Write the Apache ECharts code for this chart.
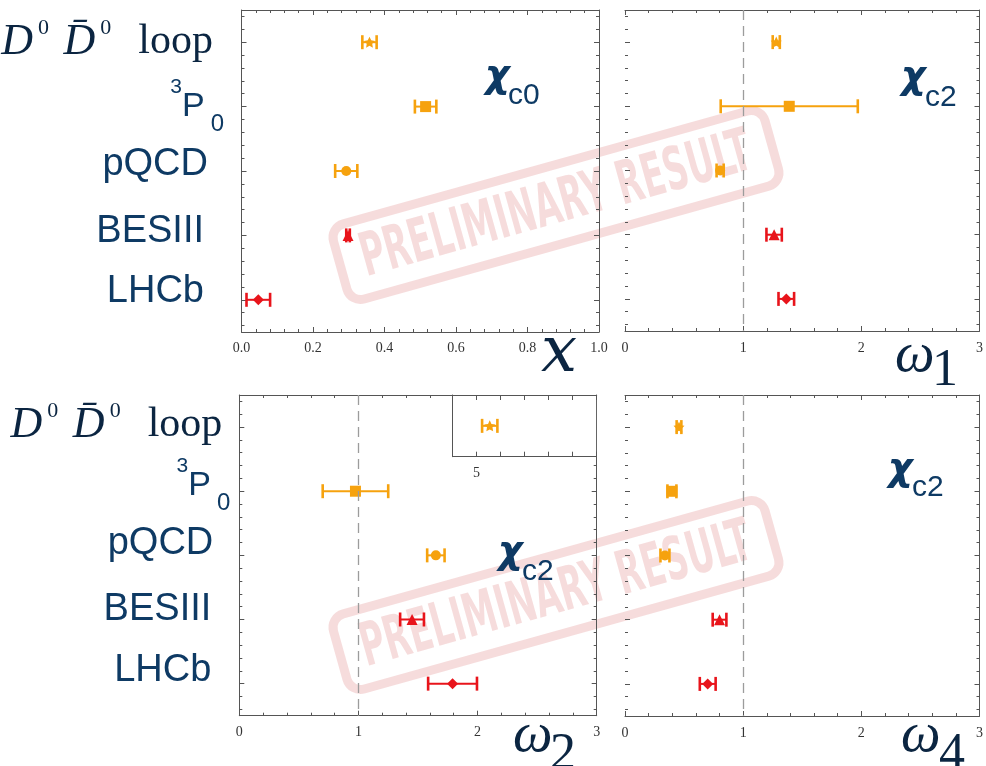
<!DOCTYPE html>
<html>
<head>
<meta charset="utf-8">
<script src="https://cdn.jsdelivr.net/npm/echarts@6/dist/echarts.min.js"></script>
<style>
  html, body { margin: 0; padding: 0; background: #ffffff; }
  #chart { width: 986px; height: 766px; }
</style>
</head>
<body>
<div id="chart"></div>
<script>
// ---- data -----------------------------------------------------------------
// rows, top to bottom
const methods = ['D0 D0bar loop', '3P0', 'pQCD', 'BESIII', 'LHCb'];

// chi_c0 : x
const xCentral = [0.358, 0.515, 0.293, 0.298, 0.047];
const xError   = [0.020, 0.030, 0.031, 0.005, 0.033];

// chi_c2 : omega_1
const w1Central = [1.280, 1.390, 0.805, 1.262, 1.365];
const w1Error   = [0.030, 0.580, 0.030, 0.065, 0.066];

// chi_c2 : omega_2  (loop value sits in the inset, 4..10 scale)
const w2Central = [5.55, 0.975, 1.650, 1.450, 1.790];
const w2Error   = [0.32, 0.275, 0.073, 0.100, 0.205];

// chi_c2 : omega_4
const w4Central = [0.457, 0.397, 0.338, 0.800, 0.700];
const w4Error   = [0.020, 0.038, 0.038, 0.058, 0.067];

const xTickLabelsTL = ['0.0', '0.2', '0.4', '0.6', '0.8', '1.0'];

// ---- styles ---------------------------------------------------------------
const ORANGE = '#f6a20e';
const RED = '#e8141b';
const NAVY = '#0e3a64';
const INK = '#0b2541';
const AXIS = '#555555';
const methodColor = [ORANGE, ORANGE, ORANGE, RED, RED];
const STAR = 'path://M0,-10L2.94,-4.05L9.51,-3.09L4.76,1.55L5.88,8.09L0,5L-5.88,8.09L-4.76,1.55L-9.51,-3.09L-2.94,-4.05Z';
const methodSymbol = [STAR, 'rect', 'circle', 'triangle', 'diamond'];
const methodSymbolSize = [11, 11, 10, 11, 11];

const panels = [
  { left: 241.5, top: 10,  width: 357.5, height: 322,   min: 0, max: 1, interval: 0.2, margin: 9,
    fmt: v => xTickLabelsTL[Math.round(v / 0.2)], center: xCentral, err: xError, ref: false, leftLine: true },
  { left: 625,   top: 10,  width: 356.7, height: 321,   min: 0, max: 3, interval: 1, margin: 10,
    fmt: v => String(Math.round(v)), center: w1Central, err: w1Error, ref: true, leftLine: false },
  { left: 239.3, top: 395, width: 357.4, height: 320.7, min: 0, max: 3, interval: 1, margin: 10,
    fmt: v => String(Math.round(v)), center: w2Central, err: w2Error, ref: true, leftLine: true, skip: [0] },
  { left: 625,   top: 395, width: 356.7, height: 321,   min: 0, max: 3, interval: 1, margin: 10,
    fmt: v => String(Math.round(v)), center: w4Central, err: w4Error, ref: true, leftLine: false }
];
const inset = { left: 452.7, top: 395, width: 143.4, height: 61.7, min: 4, max: 10, interval: 1 };

// tick positions along the row axis
const rowTicks = [1, 2, 3, 4, 5];
const rowMinorTicks = [];
for (let k = 3; k <= 27; k++) rowMinorTicks.push(+(k * 0.2).toFixed(1));

// ---- axes -----------------------------------------------------------------
const grids = [], xAxes = [], yAxes = [], series = [];
const lineStyle = { color: AXIS, width: 1 };

function xAxesFor(g, p, opts) {
  const common = {
    type: 'value', gridIndex: g, min: p.min, max: p.max, interval: p.interval,
    splitLine: { show: false },
    axisLine: { show: true, onZero: false, lineStyle },
    axisTick: { show: true, inside: true, length: 5, lineStyle },
    minorTick: { show: opts.minor, splitNumber: 5, length: 3, lineStyle },
    z: opts.z || 0
  };
  return [
    Object.assign({}, common, {
      position: 'bottom',
      axisLabel: { show: true, margin: opts.margin, fontFamily: 'Liberation Serif', fontSize: 14,
        color: '#333', formatter: opts.fmt, showMinLabel: true, showMaxLabel: true }
    }),
    Object.assign({}, common, { position: 'top', axisLabel: { show: false } })
  ];
}

function yAxesFor(g, leftLine) {
  const base = { type: 'value', gridIndex: g, min: 0.5, max: 5.5, inverse: true,
    axisLabel: { show: false }, splitLine: { show: false } };
  const mk = (pos, line, ticks, len) => Object.assign({}, base, {
    position: pos,
    axisLine: { show: line, onZero: false, lineStyle },
    axisTick: { show: true, inside: true, length: len, customValues: ticks, lineStyle }
  });
  return [
    mk('left', leftLine, rowTicks, 5),
    mk('left', false, rowMinorTicks, 3),
    mk('right', true, rowTicks, 5),
    mk('right', false, rowMinorTicks, 3)
  ];
}

function renderErrorBar(params, api) {
  const a = api.coord([api.value(0), api.value(2)]);
  const b = api.coord([api.value(1), api.value(2)]);
  const color = methodColor[api.value(3)];
  const cap = 7;
  return {
    type: 'group',
    children: [
      { type: 'line', shape: { x1: a[0], y1: a[1], x2: b[0], y2: b[1] }, style: { stroke: color, lineWidth: 2 } },
      { type: 'line', shape: { x1: a[0], y1: a[1] - cap, x2: a[0], y2: a[1] + cap }, style: { stroke: color, lineWidth: 2.6 } },
      { type: 'line', shape: { x1: b[0], y1: b[1] - cap, x2: b[0], y2: b[1] + cap }, style: { stroke: color, lineWidth: 2.6 } }
    ]
  };
}

function addPoints(xi, yi, center, err, rows, z) {
  series.push({
    type: 'custom', xAxisIndex: xi, yAxisIndex: yi, z: z,
    renderItem: renderErrorBar, encode: { x: [0, 1], y: 2 },
    data: rows.map(i => [center[i] - err[i], center[i] + err[i], i + 1, i])
  });
  series.push({
    type: 'scatter', xAxisIndex: xi, yAxisIndex: yi, z: z + 1,
    data: rows.map(i => ({
      value: [center[i], i + 1],
      symbol: methodSymbol[i],
      symbolSize: methodSymbolSize[i],
      itemStyle: { color: methodColor[i], opacity: 1 }
    }))
  });
}

panels.forEach((p, g) => {
  grids.push({ left: p.left, top: p.top, width: p.width, height: p.height, containLabel: false });
  xAxes.push(...xAxesFor(g, p, { minor: true, margin: p.margin, fmt: p.fmt }));
  yAxes.push(...yAxesFor(g, p.leftLine));
  const rows = [0, 1, 2, 3, 4].filter(i => !(p.skip || []).includes(i));
  if (p.ref) {
    series.push({
      type: 'scatter', xAxisIndex: 2 * g, yAxisIndex: 4 * g, data: [], z: 1, silent: true,
      markLine: {
        silent: true, symbol: ['none', 'none'], label: { show: false },
        lineStyle: { color: '#9c9c9c', type: [10, 6], width: 1.3 },
        data: [{ xAxis: 1 }]
      }
    });
  }
  addPoints(2 * g, 4 * g, p.center, p.err, rows, 2);
});

// inset for the loop value of omega_2
const insetGrid = grids.length;
grids.push({ left: inset.left, top: inset.top, width: inset.width, height: inset.height,
  show: true, backgroundColor: '#ffffff', borderWidth: 0, z: 10 });
const insetX = xAxes.length;
xAxes.push(...xAxesFor(insetGrid, inset, { minor: false, margin: 10, z: 11,
  fmt: v => (Math.round(v) === 5 ? '5' : '') }));
const insetY = yAxes.length;
yAxes.push({ type: 'value', gridIndex: insetGrid, min: 0.5, max: 1.5, inverse: true, position: 'left', z: 11,
  axisLine: { show: true, onZero: false, lineStyle }, axisTick: { show: false },
  axisLabel: { show: false }, splitLine: { show: false } });
addPoints(insetX, insetY, w2Central, w2Error, [0], 12);

const chart = echarts.init(document.getElementById('chart'), null, { renderer: 'canvas' });
chart.setOption({
  animation: false,
  backgroundColor: '#ffffff',
  grid: grids,
  xAxis: xAxes,
  yAxis: yAxes,
  series: series
});

// ---- row labels, panel tags, axis titles, stamp -----------------------------
const labelRich = {
  it:  { fontFamily: 'Liberation Serif', fontStyle: 'italic', fontSize: 44, lineHeight: 50, fill: INK, padding: [0, 5, 0, 0] },
  sup: { fontFamily: 'Liberation Serif', fontSize: 22, lineHeight: 42, verticalAlign: 'top', fill: INK },
  sp:  { fontFamily: 'Liberation Serif', fontSize: 42, lineHeight: 50, fill: INK, padding: [0, 4, 0, 0] },
  rm:  { fontFamily: 'Liberation Serif', fontSize: 42, lineHeight: 50, fill: INK, padding: [0, 0, 0, 6] },
  s3:  { fontFamily: 'Liberation Sans', fontSize: 21, lineHeight: 38, verticalAlign: 'top', fill: NAVY },
  P:   { fontFamily: 'Liberation Sans', fontSize: 34, lineHeight: 60, fill: NAVY },
  s0:  { fontFamily: 'Liberation Sans', fontSize: 24, lineHeight: 22, verticalAlign: 'bottom', fill: NAVY, padding: [0, 0, 0, 6] },
  sf:  { fontFamily: 'Liberation Sans', fontSize: 38, lineHeight: 50, fill: NAVY }
};
const methodLabel = [
  '{it|D}{sup|0}{sp| }{it|D\u0304}{sup|0}{rm|  loop}',
  '{s3|3}{P|P}{s0|0}',
  '{sf|pQCD}',
  '{sf|BESIII}',
  '{sf|LHCb}'
];
// right-edge distance from the frame and vertical nudge of each label
const labelLayout = [
  { g: 0, dx: [28.5, 17.5, 33.5, 37.5, 37.5], dy: [0, 0, -6.5, -3.5, -8] },
  { g: 2, dx: [17, 9, 26, 28, 28], dy: [-2, -5.5, -12, -9.5, -13] }
];

const graphics = [];
labelLayout.forEach(L => {
  methods.forEach((m, i) => {
    const py = chart.convertToPixel({ xAxisIndex: 2 * L.g, yAxisIndex: 4 * L.g }, [0, i + 1])[1];
    graphics.push({
      type: 'text', z: 50, silent: true,
      x: panels[L.g].left - L.dx[i], y: py + L.dy[i],
      style: { text: methodLabel[i], rich: labelRich, align: 'right', verticalAlign: 'middle',
        fontFamily: 'Liberation Serif', fontSize: 42, fill: INK }
    });
  });
});

function plainText(text, x, y, font, extra) {
  return Object.assign({
    type: 'text', z: 50, silent: true, x: x, y: y,
    style: Object.assign({ text: text, align: 'left', verticalAlign: 'middle', fill: NAVY }, font)
  }, extra || {});
}
const chiFont = { fontFamily: 'DejaVu Sans', fontWeight: 'bold', fontStyle: 'italic', fontSize: 38 };
const subFont = { fontFamily: 'Liberation Sans', fontSize: 30 };
// panel tags
[
  [485, 77, 508, 95.6, 'c0'],
  [901, 78, 925, 97.6, 'c2'],
  [498, 553, 522, 571.6, 'c2'],
  [888, 470, 912, 487.6, 'c2']
].forEach(t => {
  graphics.push(plainText('\u03c7', t[0], t[1], chiFont));
  graphics.push(plainText(t[4], t[2], t[3], subFont));
});

// axis titles
const mathIt = { fontFamily: 'DejaVu Serif', fontStyle: 'italic', fontSize: 64, fill: INK };
const omegaIt = { fontFamily: 'Liberation Serif', fontStyle: 'italic', fontSize: 56, fill: INK };
const idxFont = { fontFamily: 'Liberation Serif', fontSize: 52, fill: INK };
graphics.push(plainText('x', 541, 354, mathIt));
[
  [895, 356.5, 932, 371.5, '1'],
  [513, 736.5, 550, 755.5, '2'],
  [901, 736.5, 939, 755.5, '4']
].forEach(t => {
  graphics.push(plainText('\u03c9', t[0], t[1], omegaIt));
  graphics.push(plainText(t[4], t[2], t[3], idxFont));
});

// "PRELIMINARY RESULT" stamps
const stampText = 'PRELIMINARY RESULT';
const stampFamily = '"DejaVu Sans Condensed", "DejaVu Sans"';
const stampColor = 'rgba(214, 90, 90, 0.21)';
const meas = document.createElement('canvas').getContext('2d');
meas.font = 'bold 60px ' + stampFamily;
const stampScale = 404 / meas.measureText(stampText).width;
[205, 595].forEach(cy => {
  graphics.push({
    type: 'group', x: 556, y: cy, rotation: 0.272, z: 60, silent: true,
    children: [
      { type: 'rect', shape: { x: -224, y: -39, width: 448, height: 78, r: 14 },
        style: { fill: 'none', stroke: stampColor, lineWidth: 9 } },
      { type: 'text', x: 0, y: 2, scaleX: stampScale,
        style: { text: stampText, align: 'center', verticalAlign: 'middle',
          fontFamily: stampFamily, fontWeight: 'bold', fontSize: 60, fill: stampColor } }
    ]
  });
});

chart.setOption({ graphic: graphics });
</script>
</body>
</html>
